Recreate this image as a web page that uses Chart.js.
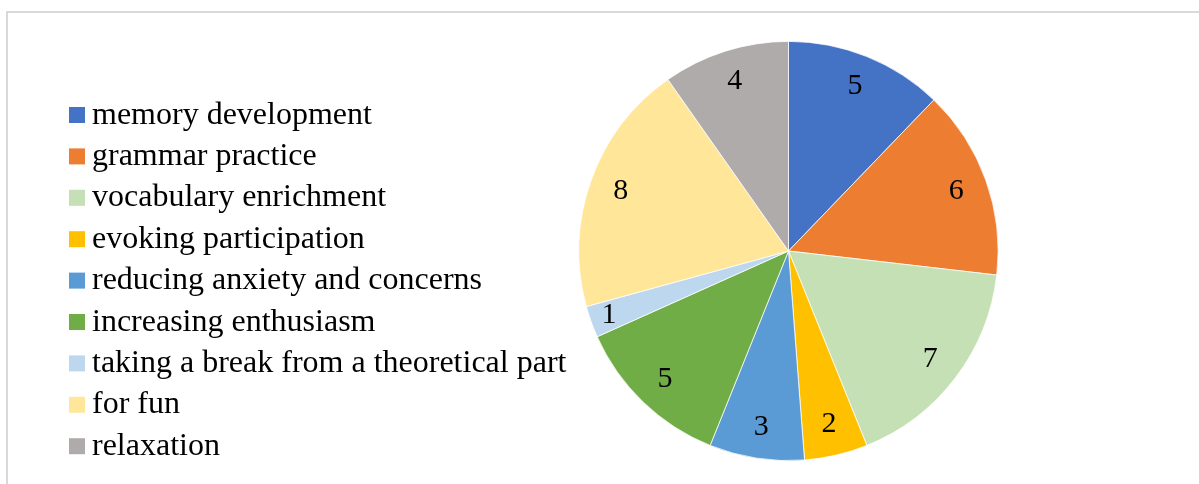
<!DOCTYPE html>
<html>
<head>
<meta charset="utf-8">
<script src="https://cdn.jsdelivr.net/npm/chart.js@4.4.1/dist/chart.umd.min.js"></script>
<style>
  html, body { margin: 0; padding: 0; background: #fff; overflow: hidden; }
  #frame {
    position: absolute; left: 6px; top: 11px;
    width: 1300px; height: 600px;
    border: 2px solid #d9d9d9; box-sizing: border-box;
  }
  #c { position: absolute; left: 0; top: 0; }
</style>
</head>
<body>
<div id="frame"></div>
<canvas id="c" width="1199" height="484"></canvas>
<script>
// categories and counts
const categories = [
    'memory development',
    'grammar practice',
    'vocabulary enrichment',
    'evoking participation',
    'reducing anxiety and concerns',
    'increasing enthusiasm',
    'taking a break from a theoretical part',
    'for fun',
    'relaxation'
];
const counts = [5, 6, 7, 2, 3, 5, 1, 8, 4];

// slice colours
const sliceColors = ['#4472C4', '#ED7D31', '#C5E0B4', '#FFC000', '#5B9BD5', '#70AD47', '#BDD7EE', '#FFE699', '#AFABAB'];

const serif = '"Liberation Serif", "Times New Roman", serif';

// legend drawn on the left side of the canvas
const sideLegend = {
    id: 'sideLegend',
    afterDraw(chart) {
        const ctx = chart.ctx;
        const labels = chart.data.labels;
        const colors = chart.data.datasets[0].backgroundColor;
        ctx.save();
        ctx.font = '32px ' + serif;
        ctx.textBaseline = 'alphabetic';
        labels.forEach((text, i) => {
            const cy = 115 + i * 41.4;
            ctx.fillStyle = colors[i];
            ctx.fillRect(69, cy - 8, 16, 16);
            ctx.fillStyle = '#000';
            ctx.fillText(text, 92, cy + 8.5);
        });
        ctx.restore();
    }
};

// value labels inside each slice
const sliceLabels = {
    id: 'sliceLabels',
    afterDatasetsDraw(chart) {
        const ctx = chart.ctx;
        const meta = chart.getDatasetMeta(0);
        const values = chart.data.datasets[0].data;
        ctx.save();
        ctx.font = '30px ' + serif;
        ctx.textAlign = 'center';
        ctx.textBaseline = 'middle';
        ctx.fillStyle = '#000';
        meta.data.forEach((arc, i) => {
            const p = arc.getProps(['x', 'y', 'startAngle', 'endAngle', 'outerRadius'], true);
            const mid = (p.startAngle + p.endAngle) / 2;
            const r = p.outerRadius * (values[i] < 2 ? 0.91 : 0.85);
            ctx.fillText(String(values[i]), p.x + Math.cos(mid) * r, p.y + Math.sin(mid) * r);
        });
        ctx.restore();
    }
};

document.addEventListener('DOMContentLoaded', () => {
    new Chart(document.getElementById('c'), {
        type: 'pie',
        data: {
            labels: categories,
            datasets: [{
                data: counts,
                backgroundColor: sliceColors,
                borderColor: '#ffffff',
                borderWidth: 0.75
            }]
        },
        options: {
            responsive: false,
            animation: false,
            devicePixelRatio: 1,
            layout: { padding: { top: 41, bottom: 23, left: 578, right: 200 } },
            plugins: {
                legend: { display: false },
                tooltip: { enabled: false }
            }
        },
        plugins: [sideLegend, sliceLabels]
    });
});
</script>
</body>
</html>
